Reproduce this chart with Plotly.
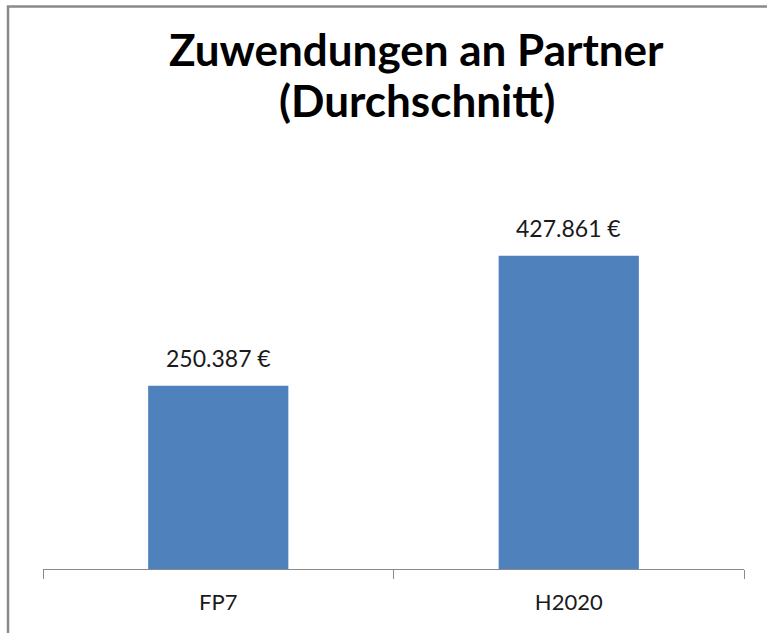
import plotly.graph_objects as go

categories = ["FP7", "H2020"]
values = [250387, 427861]
labels = [f"{v:,}".replace(",", ".") + " €" for v in values]
title_lines = ["Zuwendungen an Partner", "(Durchschnitt)"]

fig = go.Figure(go.Bar(
    x=categories, y=values,
    marker=dict(color="#4F81BD", line=dict(width=0)),
    hoverinfo="skip",
))

for c, v, t in zip(categories, values, labels):
    fig.add_annotation(x=c, y=v, text=t, showarrow=False, yshift=28,
                       font=dict(family="Lato", size=23, color="#1a1a1a"))

for line, yp in zip(title_lines, [1.422, 1.282]):
    fig.add_annotation(xref="paper", yref="paper", x=0.533, y=yp, text=line,
                       showarrow=False, xanchor="center", yanchor="middle",
                       font=dict(family="Lato", size=44, color="black", weight="bold"))

# outer frame
fig.add_shape(type="rect", xref="paper", yref="paper",
              x0=-0.0499, x1=1.2, y0=-0.4, y1=1.537,
              line=dict(color="#8a8a8a", width=2.5), fillcolor="rgba(0,0,0,0)", layer="below")

fig.update_layout(
    width=767, height=633,
    margin=dict(l=43, r=23, t=203, b=64),
    paper_bgcolor="white", plot_bgcolor="white",
    bargap=0.6,
    showlegend=False,
    xaxis=dict(showline=True, linecolor="#8a8a8a", linewidth=1, ticks="outside",
               tickson="boundaries", ticklen=9, tickcolor="#8a8a8a",
               tickfont=dict(family="Lato", size=22, color="#1a1a1a"),
               ticklabelstandoff=14, showgrid=False, fixedrange=True),
    yaxis=dict(range=[0, 500000], visible=False, showgrid=False, fixedrange=True),
)

fig.write_html("out.html", config={"displayModeBar": False, "staticPlot": True},
               post_script=("document.documentElement.style.overflow='hidden';"
                            "document.body.style.margin='0';document.body.style.overflow='hidden';"))
